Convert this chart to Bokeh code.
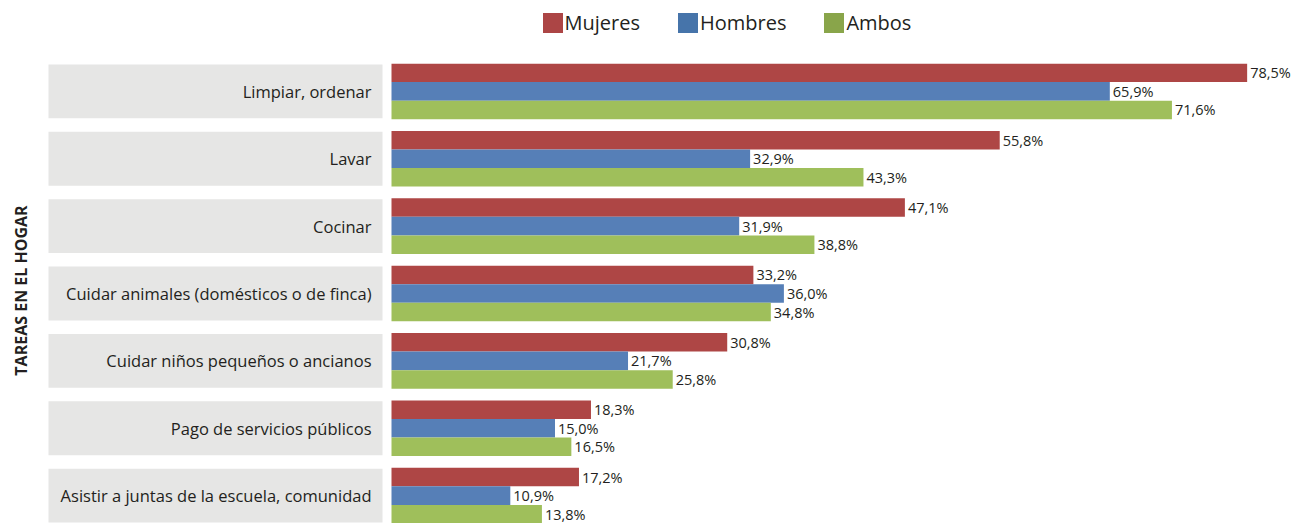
import math
from bokeh.plotting import figure
from bokeh.layouts import column
from bokeh.models import FactorRange, Range1d, Legend, LegendItem, Label, ColumnDataSource
from bokeh.embed import file_html
from bokeh.resources import INLINE
from bokeh.core.properties import value

categories = [
    "Limpiar, ordenar",
    "Lavar",
    "Cocinar",
    "Cuidar animales (domésticos o de finca)",
    "Cuidar niños pequeños o ancianos",
    "Pago de servicios públicos",
    "Asistir a juntas de la escuela, comunidad",
]
series = ["Mujeres", "Hombres", "Ambos"]
mujeres = [78.5, 55.8, 47.1, 33.2, 30.8, 18.3, 17.2]
hombres = [65.9, 32.9, 31.9, 36.0, 21.7, 15.0, 10.9]
ambos = [71.6, 43.3, 38.8, 34.8, 25.8, 16.5, 13.8]

bar_colors = {"Mujeres": "#AE4645", "Hombres": "#567FB7", "Ambos": "#9FBF5B"}
legend_colors = {"Mujeres": "#AC4545", "Hombres": "#4674AA", "Ambos": "#89A54A"}
FONT = "Open Sans"
TXT = "#231F20"

W = 1316
TOP = 63
H = 523 - TOP
PX_PER_UNIT = 10.9          # pixels per percentage point
ZERO_PX = 391               # pixel position of 0 % inside the frame
x_start = -ZERO_PX / PX_PER_UNIT
x_end = (W - ZERO_PX) / PX_PER_UNIT

factors = [(c, s) for c in reversed(categories) for s in reversed(series)]

# ---------- legend strip ----------
lg = figure(width=W, height=TOP, x_range=Range1d(0, 1), y_range=Range1d(0, 1),
            x_axis_location=None, y_axis_location=None,
            toolbar_location=None, output_backend="svg", min_border=0)
lg.outline_line_color = None
lg.xgrid.visible = False
lg.ygrid.visible = False
items = []
for s in series:
    # swatch-only renderers, placed outside the visible range of the strip
    r = lg.quad(left=[5], right=[6], top=[6], bottom=[5],
                fill_color=legend_colors[s], line_color=None)
    items.append(LegendItem(label=s, renderers=[r]))
legend = Legend(
    items=items, orientation="horizontal", location=(539.5, 27.5),
    glyph_width=25, glyph_height=25, label_standoff=0, spacing=35,
    padding=0, margin=0, border_line_color=None, background_fill_alpha=0,
    label_text_font=FONT, label_text_font_size="20px", label_text_color=TXT,
    label_height=25,
)
lg.add_layout(legend, "center")

# ---------- main chart ----------
p = figure(
    width=W, height=H,
    x_range=Range1d(x_start, x_end),
    y_range=FactorRange(factors=factors, group_padding=0.63, range_padding=0),
    x_axis_location=None, y_axis_location=None,
    toolbar_location=None, output_backend="svg",
    min_border=0,
)
p.outline_line_color = None
p.xgrid.visible = False
p.ygrid.visible = False
p.background_fill_color = "white"
p.border_fill_color = "white"

# grey category boxes (left panel area)
box_left = -(ZERO_PX - 48) / PX_PER_UNIT
box_right = -(ZERO_PX - 382) / PX_PER_UNIT
p.hbar(y=categories, left=box_left, right=box_right, height=2.9,
       fill_color="#E6E6E5", line_color=None)
p.text(x=[-(ZERO_PX - 371) / PX_PER_UNIT] * len(categories), y=categories, text=categories,
       text_align="right", text_baseline="middle",
       text_font=value(FONT), text_font_size="16.5px", text_color=TXT)

vals = {"Mujeres": mujeres, "Hombres": hombres, "Ambos": ambos}
for s in series:
    ys = [(c, s) for c in categories]
    src = ColumnDataSource(dict(
        y=ys, v=vals[s],
        lbl=[("%.1f%%" % v).replace(".", ",") for v in vals[s]],
    ))
    p.hbar(y="y", left=0, right="v", height=1.0, source=src,
           fill_color=bar_colors[s], line_color=None)
    p.text(x="v", y="y", text="lbl", source=src, x_offset=3,
           text_align="left", text_baseline="middle",
           text_font=value(FONT), text_font_size="14.5px", text_color=TXT)

title = Label(x=20, y=233, x_units="screen", y_units="screen",
              text="TAREAS EN EL HOGAR", angle=math.pi / 2,
              text_align="center", text_baseline="middle",
              text_font=FONT, text_font_size="16px", text_font_style="bold",
              text_color=TXT)
p.add_layout(title)

layout = column(lg, p, spacing=0)
open("out.html", "w").write(file_html(layout, INLINE))
